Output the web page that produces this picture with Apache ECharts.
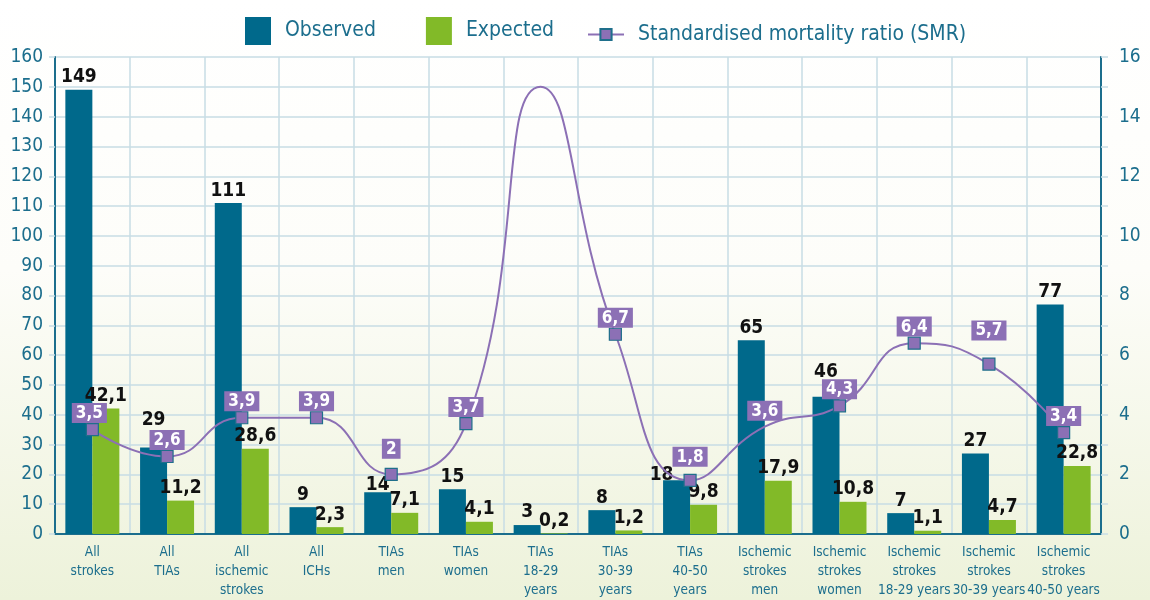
<!DOCTYPE html>
<html>
<head>
<meta charset="utf-8">
<script src="https://cdn.jsdelivr.net/npm/echarts@6/dist/echarts.min.js"></script>
<style>
  html, body { margin: 0; padding: 0; }
  #chart { width: 1150px; height: 600px; }
</style>
</head>
<body>
<div id="chart"></div>
<script>
// categories and values
const categories = [
  "All\nstrokes", "All\nTIAs", "All\nischemic\nstrokes", "All\nICHs",
  "TIAs\nmen", "TIAs\nwomen", "TIAs\n18-29\nyears", "TIAs\n30-39\nyears",
  "TIAs\n40-50\nyears", "Ischemic\nstrokes\nmen", "Ischemic\nstrokes\nwomen",
  "Ischemic\nstrokes\n18-29 years", "Ischemic\nstrokes\n30-39 years",
  "Ischemic\nstrokes\n40-50 years"
];
const observed = [149, 29, 111, 9, 14, 15, 3, 8, 18, 65, 46, 7, 27, 77];
const expected = [42.1, 11.2, 28.6, 2.3, 7.1, 4.1, 0.2, 1.2, 9.8, 17.9, 10.8, 1.1, 4.7, 22.8];
const smr = [3.5, 2.6, 3.9, 3.9, 2, 3.7, 15, 6.7, 1.8, 3.6, 4.3, 6.4, 5.7, 3.4];
const leftTicks = [0, 160, 10];
const rightTicks = [0, 16, 1];

const FONT = "'DejaVu Sans Condensed', 'Roboto', sans-serif";
const TEAL = "#1c6e8d";
const GRIDC = "#c7dde5";

const comma = (v) => String(v).replace(".", ",");

// hand placed labels, like in the original
const obsOffsets = { 1: [0, -15], 4: [0, 5], 8: [-15, 7], 10: [0, -12] };
const smrOffsets = { 0: [-3, 0], 4: [0, -9], 8: [0, -7], 9: [0, -6], 12: [0, -17] };

const obsData = observed.map((v, i) => {
  const item = { value: v };
  if (obsOffsets[i]) item.label = { offset: obsOffsets[i] };
  return item;
});

const smrData = smr.map((v, i) => {
  const item = { value: v };
  // no marker at the peak and at "Ischemic strokes men"
  if (i === 6) {
    item.symbolSize = 0;
    item.label = { show: false };
  } else if (i === 9) {
    item.symbolSize = 0;
  }
  if (smrOffsets[i] && i !== 6) {
    item.label = Object.assign({}, item.label, { offset: smrOffsets[i] });
  }
  return item;
});

const valueLabel = {
  show: true,
  position: "top",
  distance: 3,
  color: "#111",
  fontFamily: FONT,
  fontWeight: "bold",
  fontSize: 19,
  formatter: (p) => comma(p.value),
};

const chart = echarts.init(document.getElementById("chart"));
chart.setOption({
  backgroundColor: new echarts.graphic.LinearGradient(0, 0, 0, 1, [
    { offset: 0, color: "#ffffff" },
    { offset: 0.45, color: "#fdfdf9" },
    { offset: 1, color: "#edf2da" },
  ]),
  textStyle: { fontFamily: FONT },
  legend: [
    {
      data: ["Observed", "Expected"],
      left: 240,
      top: 12,
      icon: "rect",
      itemWidth: 26,
      itemHeight: 28,
      itemGap: 50,
      textStyle: { color: TEAL, fontSize: 21, fontFamily: FONT, padding: [0, 0, 0, 9] },
    },
    {
      data: ["Standardised mortality ratio (SMR)"],
      left: 582,
      top: 19,
      itemWidth: 36,
      itemHeight: 14,
      textStyle: { color: TEAL, fontSize: 21, fontFamily: FONT, padding: [0, 0, 0, 9] },
    },
  ],
  grid: { left: 55, right: 49, top: 57, bottom: 64 },
  xAxis: {
    type: "category",
    data: categories,
    axisLine: { lineStyle: { color: TEAL, width: 2 } },
    axisTick: { show: false },
    splitLine: { show: true, interval: 0, lineStyle: { color: GRIDC, width: 1.5 } },
    axisLabel: {
      interval: 0,
      color: TEAL,
      fontSize: 13.5,
      lineHeight: 19,
      margin: 9,
      fontFamily: FONT,
    },
  },
  yAxis: [
    {
      type: "value",
      min: leftTicks[0],
      max: leftTicks[1],
      interval: leftTicks[2],
      axisLine: { show: true, lineStyle: { color: TEAL, width: 2 } },
      axisTick: { show: true, length: 6, lineStyle: { color: GRIDC, width: 1.5 } },
      splitLine: { lineStyle: { color: GRIDC, width: 1.5 } },
      axisLabel: { color: TEAL, fontSize: 19, margin: 12, fontFamily: FONT },
    },
    {
      type: "value",
      min: rightTicks[0],
      max: rightTicks[1],
      interval: rightTicks[2],
      position: "right",
      axisLine: { show: true, lineStyle: { color: TEAL, width: 2 } },
      axisTick: { show: true, length: 7, lineStyle: { color: GRIDC, width: 1.5 } },
      splitLine: { show: false },
      axisLabel: {
        color: TEAL,
        fontSize: 19,
        margin: 18,
        fontFamily: FONT,
        formatter: (v) => (v % 2 === 0 ? v : ""),
      },
    },
  ],
  series: [
    {
      name: "Observed",
      type: "bar",
      data: obsData,
      barWidth: 27,
      barGap: "0%",
      itemStyle: { color: "#00698b" },
      label: valueLabel,
    },
    {
      name: "Expected",
      type: "bar",
      data: expected,
      barWidth: 27,
      itemStyle: { color: "#82ba28" },
      label: valueLabel,
    },
    {
      name: "Standardised mortality ratio (SMR)",
      type: "line",
      yAxisIndex: 1,
      data: smrData,
      smooth: 0.5,
      symbol: "rect",
      symbolSize: 12,
      z: 5,
      lineStyle: { color: "#8c70b5", width: 2 },
      itemStyle: { color: "#8c70b5", borderColor: "#1f6f8b", borderWidth: 1.2 },
      label: {
        show: true,
        position: "top",
        distance: 0,
        color: "#ffffff",
        backgroundColor: "#8c70b5",
        padding: [2, 4, 1, 4],
        fontFamily: FONT,
        fontWeight: "bold",
        fontSize: 17,
        formatter: (p) => comma(p.value),
      },
    },
  ],
});
</script>
</body>
</html>
